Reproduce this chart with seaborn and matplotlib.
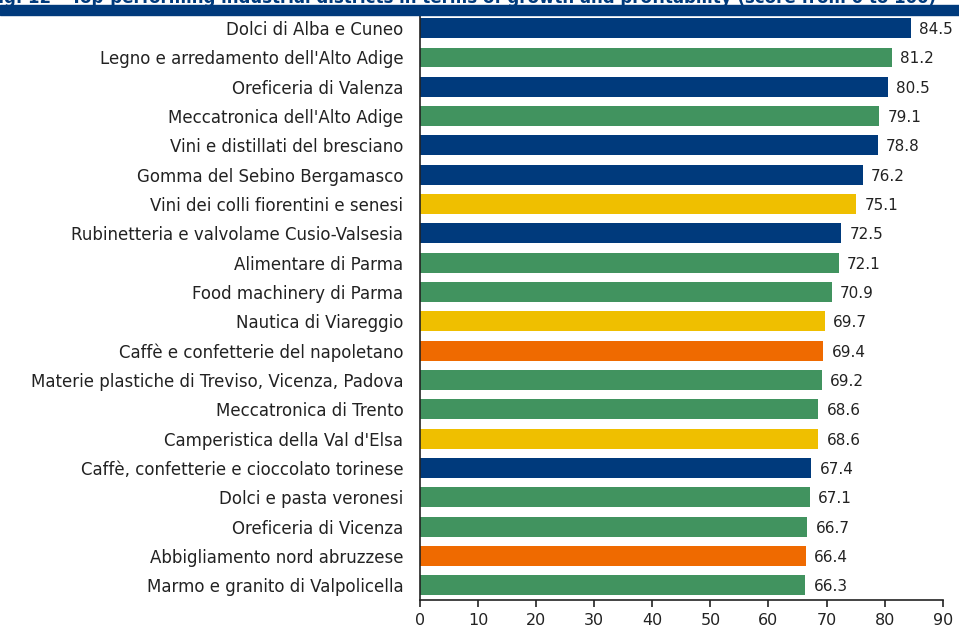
import matplotlib
matplotlib.use("Agg")
import matplotlib.pyplot as plt
import seaborn as sns
import pandas as pd

#   Distretti e punteggi (0-100)
districts = [
    "Dolci di Alba e Cuneo",
    "Legno e arredamento dell'Alto Adige",
    "Oreficeria di Valenza",
    "Meccatronica dell'Alto Adige",
    "Vini e distillati del bresciano",
    "Gomma del Sebino Bergamasco",
    "Vini dei colli fiorentini e senesi",
    "Rubinetteria e valvolame Cusio-Valsesia",
    "Alimentare di Parma",
    "Food machinery di Parma",
    "Nautica di Viareggio",
    "Caffè e confetterie del napoletano",
    "Materie plastiche di Treviso, Vicenza, Padova",
    "Meccatronica di Trento",
    "Camperistica della Val d'Elsa",
    "Caffè, confetterie e cioccolato torinese",
    "Dolci e pasta veronesi",
    "Oreficeria di Vicenza",
    "Abbigliamento nord abruzzese",
    "Marmo e granito di Valpolicella",
]
scores = [84.5, 81.2, 80.5, 79.1, 78.8, 76.2, 75.1, 72.5, 72.1, 70.9,
          69.7, 69.4, 69.2, 68.6, 68.6, 67.4, 67.1, 66.7, 66.4, 66.3]
areas = ["NO", "NE", "NO", "NE", "NO", "NO", "C", "NO", "NE", "NE",
         "C", "S", "NE", "NE", "C", "NO", "NE", "NE", "S", "NE"]

area_colors = {"NO": "#003A7C", "NE": "#41935F", "C": "#EFBF00", "S": "#EF6A00"}

df = pd.DataFrame({"district": districts, "score": scores, "area": areas})

sns.set_style("white")
plt.rcParams["font.family"] = ["DejaVu Sans"]

fig = plt.figure(figsize=(9.59, 6.3), dpi=100)
ax = fig.add_axes([0.438, 0.0476, 0.545, 0.931])

sns.barplot(data=df, x="score", y="district", hue="area", palette=area_colors,
            dodge=False, width=0.68, saturation=1, linewidth=0,
            legend=False, ax=ax)

#   Etichette con i valori
for i, v in enumerate(scores):
    ax.annotate(f"{v:.1f}", (v, i), textcoords="offset points", xytext=(6, -1),
                ha="left", va="center", fontsize=11, color="#222222",
                annotation_clip=False)

ax.set_xlim(0, 90)
ax.set_xticks(range(0, 91, 10))
ax.set_xlabel("")
ax.set_ylabel("")
ax.tick_params(axis="x", length=5, width=1.2, color="#222222", labelsize=11.5,
               labelcolor="#222222", pad=4, direction="out", bottom=True)
ax.tick_params(axis="y", length=0, labelsize=12, labelcolor="#222222", pad=12)
sns.despine(ax=ax, top=True, right=True)
for s in ("left", "bottom"):
    ax.spines[s].set_color("#222222")
    ax.spines[s].set_linewidth(1.2)

#   Titolo (tagliato in alto come nell'originale)
fig.patches.append(plt.Rectangle((0, 1 - 14.5 / 630), 1, 9.5 / 630,
                                 transform=fig.transFigure, color="#003A7C"))
fig.text(-0.014, 1 - 3 / 630,
         "Fig. 12 – Top-performing industrial districts in terms of growth and profitability (score from 0 to 100)",
         fontsize=12, fontweight="bold", color="#003A7C", ha="left", va="baseline")

fig.savefig("out.png", dpi=100)
